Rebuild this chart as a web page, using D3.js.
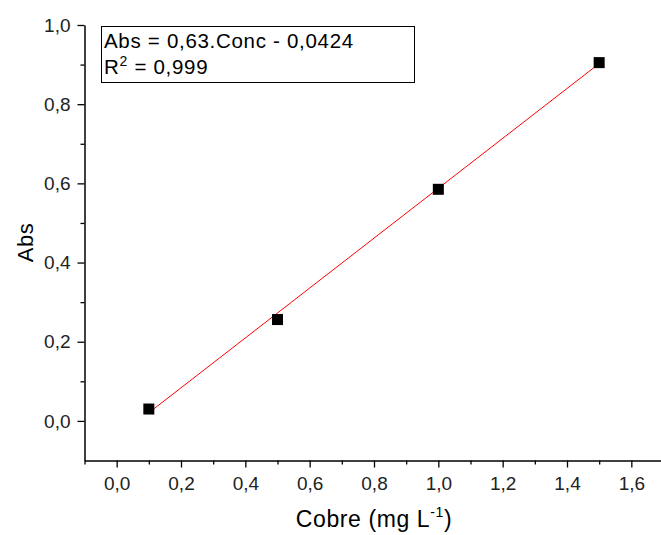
<!DOCTYPE html>
<html>
<head>
<meta charset="utf-8">
<script src="https://cdn.jsdelivr.net/npm/d3@7"></script>
<style>
  html, body { margin: 0; padding: 0; background: #fff; }
  svg { display: block; font-family: "Liberation Sans", Arial, sans-serif; }
</style>
</head>
<body>
<svg id="chart" width="661" height="535"></svg>
<script>
// ---- data ----
const concentrations = [0.1, 0.5, 1.0, 1.5];
const absorbances = [0.030, 0.256, 0.585, 0.905];
const fitSlope = 0.63;
const fitIntercept = -0.0424;
const equationText = "Abs = 0,63.Conc - 0,0424";
const r2Text = "0,999";
const xMajorTicks = [0.0, 0.2, 0.4, 0.6, 0.8, 1.0, 1.2, 1.4, 1.6];
const xMinorTicks = [-0.1, 0.1, 0.3, 0.5, 0.7, 0.9, 1.1, 1.3, 1.5];
const yMajorTicks = [0.0, 0.2, 0.4, 0.6, 0.8, 1.0];
const yMinorTicks = [0.1, 0.3, 0.5, 0.7, 0.9];
const xTitle = "Cobre (mg L";
const yTitle = "Abs";

// ---- layout ----
const svg = d3.select("#chart");
const x = d3.scaleLinear().domain([-0.1, 1.7]).range([84.5, 663.5]);
const y = d3.scaleLinear().domain([-0.1, 1.0]).range([460.5, 25]);
const fmt = d => d3.format(".1f")(d).replace(".", ",");

// x axis
const xAxisG = svg.append("g").attr("transform", `translate(0,${y(-0.1)})`);
xAxisG.call(d3.axisBottom(x).tickValues(xMajorTicks).tickFormat(fmt).tickSize(7).tickSizeOuter(0).tickPadding(4));
xAxisG.append("g").call(d3.axisBottom(x).tickValues(xMinorTicks).tickFormat("").tickSize(4).tickSizeOuter(0))
  .select(".domain").remove();
// y axis
const yAxisG = svg.append("g").attr("transform", `translate(${x(-0.1)},0)`);
yAxisG.call(d3.axisLeft(y).tickValues(yMajorTicks).tickFormat(fmt).tickSize(7).tickSizeOuter(0).tickPadding(7));
yAxisG.append("g").call(d3.axisLeft(y).tickValues(yMinorTicks).tickFormat("").tickSize(4).tickSizeOuter(0))
  .select(".domain").remove();

svg.selectAll(".domain").attr("stroke", "#000").attr("stroke-width", 1.5);
svg.selectAll(".tick line").attr("stroke", "#000").attr("stroke-width", 1.3);
svg.selectAll(".tick text").attr("font-size", 19).attr("fill", "#222")
  .attr("font-family", "'Liberation Sans', Arial, sans-serif");
xAxisG.selectAll(".tick text").attr("dy", "0.95em");

// fit line
const xMin = d3.min(concentrations), xMax = d3.max(concentrations);
const fitPts = [xMin, xMax].map(c => [c, fitSlope * c + fitIntercept]);
svg.append("path")
  .attr("d", d3.line().x(d => x(d[0])).y(d => y(d[1]))(fitPts))
  .attr("stroke", "#ff0000").attr("stroke-width", 1).attr("fill", "none");

// points
const sz = 11;
svg.append("g").selectAll("rect").data(concentrations).join("rect")
  .attr("x", (d) => x(d) - sz / 2)
  .attr("y", (d, i) => y(absorbances[i]) - sz / 2)
  .attr("width", sz).attr("height", sz)
  .attr("fill", "#000");

// titles
const xt = svg.append("text").attr("x", 374).attr("y", 527).attr("text-anchor", "middle")
  .attr("font-size", 23).attr("letter-spacing", 0.6).attr("fill", "#000");
xt.append("tspan").text(xTitle);
xt.append("tspan").attr("dy", -10).attr("font-size", 14).text("-1");
xt.append("tspan").attr("dy", 10).text(")");

svg.append("text").attr("transform", `translate(33,242.5) rotate(-90)`)
  .attr("text-anchor", "middle").attr("font-size", 22).attr("letter-spacing", 0.5)
  .attr("fill", "#000").text(yTitle);

// equation box
svg.append("rect").attr("x", 101.5).attr("y", 26.5).attr("width", 313).attr("height", 56)
  .attr("fill", "#fff").attr("stroke", "#000").attr("stroke-width", 1);
svg.append("text").attr("x", 104).attr("y", 48).attr("font-size", 20.5).attr("letter-spacing", 0.7)
  .attr("fill", "#000").text(equationText);
const r2 = svg.append("text").attr("x", 104).attr("y", 74).attr("font-size", 20.5)
  .attr("letter-spacing", 0.7).attr("fill", "#000");
r2.append("tspan").text("R");
r2.append("tspan").attr("dy", -8).attr("font-size", 14).text("2");
r2.append("tspan").attr("dy", 8).text(" = " + r2Text);
</script>
</body>
</html>
